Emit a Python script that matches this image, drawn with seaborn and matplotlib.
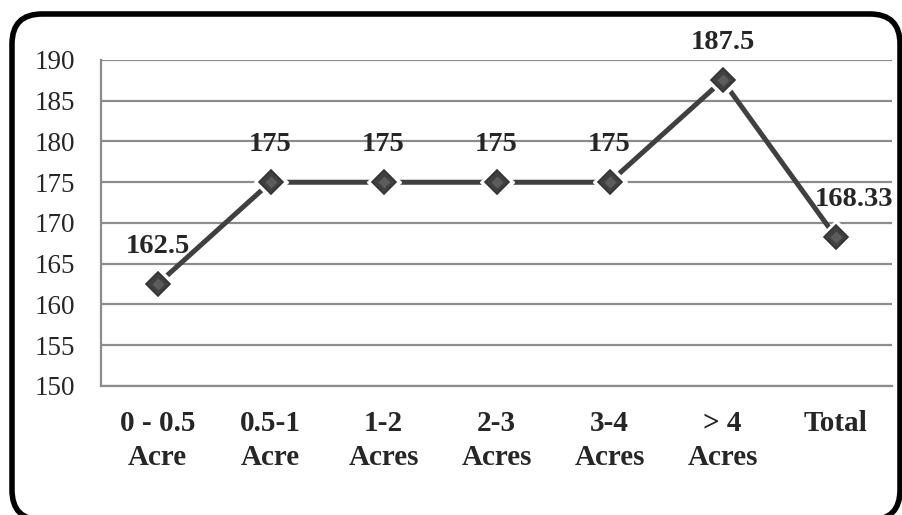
import numpy as np
import seaborn as sns
import matplotlib.pyplot as plt
from matplotlib.patches import FancyBboxPatch

# chart data
categories = ["0 - 0.5\nAcre", "0.5-1\nAcre", "1-2\nAcres", "2-3\nAcres",
              "3-4\nAcres", "> 4\nAcres", "Total"]
values = [162.5, 175, 175, 175, 175, 187.5, 168.33]
value_labels = ["162.5", "175", "175", "175", "175", "187.5", "168.33"]
y_ticks = [150, 155, 160, 165, 170, 175, 180, 185, 190]

sns.set_theme(style="white")
plt.rcParams['font.family'] = ['Liberation Serif', 'DejaVu Serif']

LINE = "#404040"
GRID = "#8c8c8c"

fig = plt.figure(figsize=(9.02, 5.15), dpi=100)

# rounded black frame around the chart (its bottom edge runs off the image).
# filled white so Agg does not clip the curved outline into a slanted line
bg = fig.add_axes([0, 0, 1, 1])
bg.set_xlim(0, 902)
bg.set_ylim(515, 0)
bg.axis("off")
bg.add_patch(FancyBboxPatch((12, 14), 888, 506,
                            boxstyle="round,pad=0,rounding_size=30",
                            fc="white", ec="black", lw=4, clip_on=False))

ax = fig.add_axes([0.112, 0.2505, 0.877, 0.633])
ax.set_facecolor("none")
pos = np.arange(len(categories))

sns.lineplot(x=pos, y=values, ax=ax, color=LINE, linewidth=3.6, zorder=2)
# white halo, then the diamond markers
ax.plot(pos, values, ls="none", marker="D", ms=17, color="white", zorder=3)
ax.plot(pos, values, ls="none", marker="D", ms=12.5, mfc=LINE, mec="#333333",
        mew=1.2, zorder=4)
ax.plot(pos, values, ls="none", marker="D", ms=6, mfc="#5c5c5c", mec="none", zorder=5)

# data labels (the last one is nudged right, as in the source)
for i, (v, lab) in enumerate(zip(values, value_labels)):
    dx = 0.16 if i == len(values) - 1 else 0
    ax.annotate(lab, (pos[i] + dx, v), xytext=(0, 18), textcoords="offset points",
                ha="center", va="bottom", fontsize=20.5, fontweight="bold")

ax.set_xlim(-0.5, len(categories) - 0.5)
ax.set_ylim(150, 190)
ax.set_yticks(y_ticks)
ax.set_xticks(pos)
ax.set_xticklabels(categories, fontsize=21, fontweight="bold", linespacing=1.35)
ax.tick_params(axis="y", labelsize=19.5, length=0, pad=19)
ax.tick_params(axis="x", length=0, pad=17)

ax.grid(axis="y", color=GRID, linewidth=1.6)
ax.set_axisbelow(True)
for side in ["top", "right"]:
    ax.spines[side].set_visible(False)
for side in ["left", "bottom"]:
    ax.spines[side].set_color(GRID)
    ax.spines[side].set_linewidth(1.6)
ax.set_xlabel("")
ax.set_ylabel("")

fig.savefig("out.png", dpi=100)
